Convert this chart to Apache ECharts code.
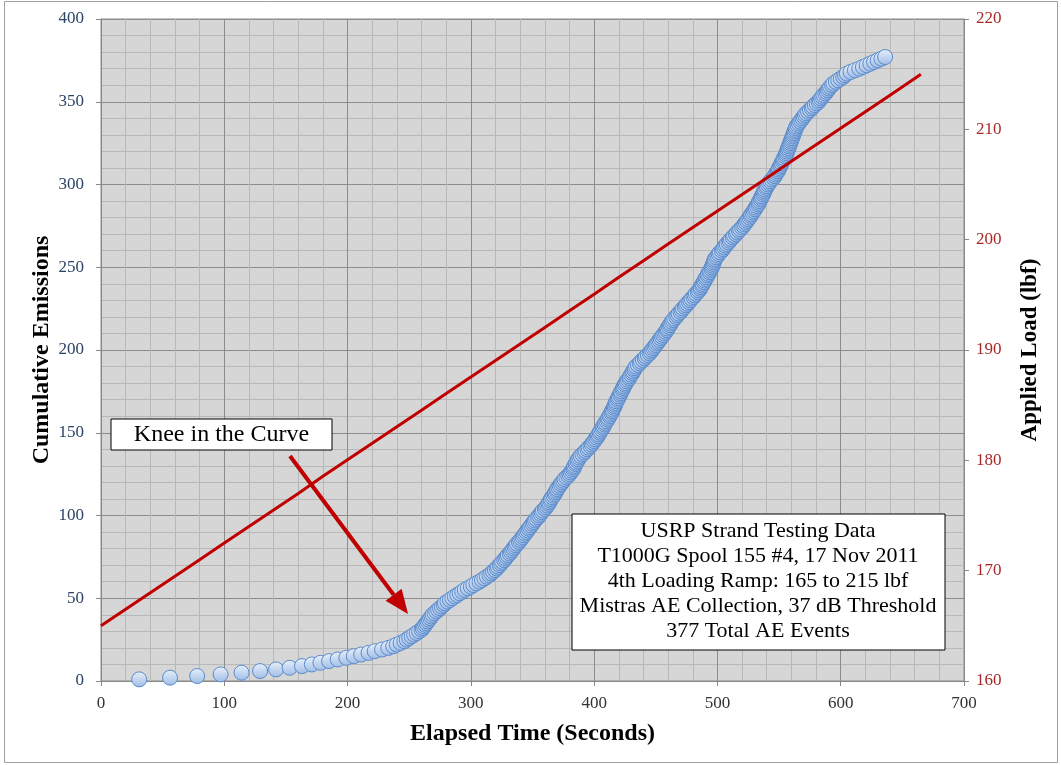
<!DOCTYPE html>
<html><head><meta charset="utf-8">
<script src="https://cdn.jsdelivr.net/npm/echarts@6.0.0/dist/echarts.min.js"></script>
<style>html,body{margin:0;padding:0;background:#fff}#c{width:1061px;height:765px}</style>
</head><body><div id="c"></div><script>
// Elapsed time (s) of each acoustic emission event; cumulative count = position in list
const eventTimes = [
 31,56,78,97,114,129,142,153,163,171,
 178,185,192,199,205,211,217,222,228,233,
 237,240,243,246,248,250,252,254,256,258,
 260,261,262,263,264,265,266,267,268,269,
 270.5,272,273.5,275,276.5,278,279,281,283,285,
 287,289,291,293,295,297.5,300,302,304.5,307,
 309,311,313,315,316.5,318,319.5,321,322,323.5,
 324.5,325.5,327,328,329,330,331.5,332.5,333.5,334.5,
 335.5,336.5,337.5,339,340,341,342,343,344,345,
 346,347,348,349,350,351,352,353,354.5,355.5,
 356.5,357.5,358.5,360,361,362,363,363.5,364.5,365,
 366,367,368,368.5,369.5,370,371,372,373,374,
 375,376,377.5,379,380,381,382,383,383.5,384,
 385,385.5,386.5,387,388,389,390.5,392,393,394.5,
 395.5,397,398,399,400,401,402,403,403.5,404.5,
 405,406,407,407.5,408.5,409,410,411,411.5,412.5,
 413,414,414.5,415,416,416.5,417,417.5,418,419,
 419.5,420,421,421.5,422,423,423.5,424,425,425.5,
 426.5,427.5,428.5,429,430,431,431.5,432.5,433,434,
 435.5,437,438,439.5,441,442,443.5,445,446,447,
 448,449,450,451,452,453,454,455,456,457,
 458,459,459.5,460.5,461.5,462,463,464,465,466.5,
 467.5,468.5,470,471,472,473.5,474.5,475.5,477,478,
 479,480.5,481.5,482.5,484,485,486,486.5,487.5,488,
 489,489.5,490.5,491,492,492.5,493.5,494,495,495.5,
 496,496.5,497,497.5,498,499,500,501,502,503.5,
 504.5,505.5,506.5,507.5,509,510,511,512.5,513.5,515,
 516,517.5,518.5,520,521,522,523,524,525,526,
 527,527.5,528.5,529.5,530.5,531,532,533,533.5,534,
 535,535.5,536,537,537.5,538,538.5,539.5,540,541,
 542,543,544,545.5,546.5,547,548,549,549.5,550,
 551,551.5,552,553,553.5,554,555,555.5,556,556.5,
 557,557.5,558,558.5,559,559.5,560,560.5,561,561.5,
 562,562.5,563,563.5,564,565,566,567,568,569,
 570,571,572,573.5,575,576.5,577.5,579,580.5,582,
 583,584,585,586,587.5,588.5,589.5,590.5,591.5,593,
 594,596,598,600,602,603.5,605,608,611.5,615,
 618,621,624,627,630,633,636
];
// Applied load ramp
const loadTimes = [0,20,40,60,80,100,120,140,160,180,200,220,240,260,280,300,320,340,360,380,400,420,440,460,480,500,520,540,560,580,600,620,640,660,665];
const loadValues = [165.0,166.5,168.0,169.5,171.0,172.5,174.0,175.5,177.0,178.55,180.05,181.55,183.05,184.55,186.05,187.55,189.05,190.55,192.05,193.55,195.05,196.6,198.1,199.6,201.1,202.6,204.1,205.6,207.1,208.6,210.1,211.6,213.1,214.6,215.0];
const xTicks = [0,700,100];
const leftTicks = [0,400,50];
const rightTicks = [160,220,10];
const infoLines = ['USRP Strand Testing Data','T1000G Spool 155 #4, 17 Nov 2011','4th Loading Ramp: 165 to 215 lbf','Mistras AE Collection, 37 dB Threshold','377 Total AE Events'];
const kneeLabel = 'Knee in the Curve';

const SERIF = '"Liberation Serif","Times New Roman",serif';
const chart = echarts.init(document.getElementById('c'), null, {renderer:'canvas'});

const scatterData = eventTimes.map((t,i)=>[t,i+1]);
const loadData = loadTimes.map((t,i)=>[t,loadValues[i]]);

// arrow geometry (annotation)
const aS=[290,456], aE=[408,614];
const ang=Math.atan2(aE[1]-aS[1],aE[0]-aS[0]);
const hl=24, hw=10;
const bx=aE[0]-hl*Math.cos(ang), by=aE[1]-hl*Math.sin(ang);
const px=-Math.sin(ang), py=Math.cos(ang);

const option = {
  animation:false,
  backgroundColor:'#fff',
  grid:{left:101,right:97,top:19,bottom:84,show:true,backgroundColor:'#d6d6d6',borderColor:'#8a8a8a',borderWidth:1},
  xAxis:{type:'value',min:xTicks[0],max:xTicks[1],interval:xTicks[2],
    name:'Elapsed Time (Seconds)',nameLocation:'middle',nameGap:41,nameMoveOverlap:false,
    nameTextStyle:{fontFamily:SERIF,fontWeight:'bold',fontSize:24,color:'#000'},
    axisLine:{lineStyle:{color:'#888'}},axisTick:{show:true,length:5,lineStyle:{color:'#888'}},
    axisLabel:{fontFamily:SERIF,fontSize:17,color:'#333',margin:14},
    splitLine:{show:true,lineStyle:{color:'#8c8c8c',width:1}},
    minorTick:{show:false,splitNumber:5},
    minorSplitLine:{show:true,lineStyle:{color:'#b8b8b8',width:1}}},
  yAxis:[{type:'value',min:leftTicks[0],max:leftTicks[1],interval:leftTicks[2],position:'left',
    name:'Cumulative Emissions',nameLocation:'middle',nameGap:47,nameMoveOverlap:false,
    nameTextStyle:{fontFamily:SERIF,fontWeight:'bold',fontSize:24,color:'#000'},
    axisLine:{show:true,lineStyle:{color:'#888'}},axisTick:{show:true,length:5,lineStyle:{color:'#888'}},
    axisLabel:{fontFamily:SERIF,fontSize:17,color:'#2b4466',margin:17},
    splitLine:{show:true,lineStyle:{color:'#8c8c8c',width:1}},
    minorTick:{show:false,splitNumber:5},
    minorSplitLine:{show:true,lineStyle:{color:'#b8b8b8',width:1}}},
   {type:'value',min:rightTicks[0],max:rightTicks[1],interval:rightTicks[2],position:'right',
    name:'Applied Load (lbf)',nameLocation:'middle',nameGap:55,nameMoveOverlap:false,
    nameTextStyle:{fontFamily:SERIF,fontWeight:'bold',fontSize:23,color:'#000'},
    axisLine:{show:true,lineStyle:{color:'#888'}},axisTick:{show:true,length:5,lineStyle:{color:'#888'}},
    axisLabel:{fontFamily:SERIF,fontSize:17,color:'#a82828',margin:12},
    splitLine:{show:false}}],
  series:[
    {type:'scatter',yAxisIndex:0,data:scatterData,symbol:'circle',symbolSize:15,z:2,
     itemStyle:{color:new echarts.graphic.LinearGradient(0,0,0,1,[{offset:0,color:'#e8f0fa'},{offset:1,color:'#9fbde6'}]),
       borderColor:'#5a8acb',borderWidth:1,opacity:1}},
    {type:'line',yAxisIndex:1,data:loadData,symbol:'none',z:3,
     lineStyle:{color:'#c00000',width:3}}
  ],
  graphic:[
    {type:'rect',z:10,shape:{x:111,y:419,width:221,height:31},style:{fill:'#fff',stroke:'#000',lineWidth:1}},
    {type:'text',z:11,x:221.5,y:435,style:{text:kneeLabel,font:'24px '+SERIF,fill:'#000',textAlign:'center',textVerticalAlign:'middle'}},
    {type:'line',z:12,shape:{x1:aS[0],y1:aS[1],x2:bx,y2:by},style:{stroke:'#c00000',lineWidth:4}},
    {type:'polygon',z:12,shape:{points:[[aE[0],aE[1]],[bx+px*hw,by+py*hw],[bx-px*hw,by-py*hw]]},style:{fill:'#c00000'}},
    {type:'rect',z:10,shape:{x:572,y:514,width:373,height:136},style:{fill:'#fff',stroke:'#000',lineWidth:1}},
    ...infoLines.map((s,i)=>({type:'text',z:11,x:758,y:531+i*25,style:{text:s,font:'22px '+SERIF,fill:'#000',textAlign:'center',textVerticalAlign:'middle'}})),
    {type:'rect',z:0,shape:{x:4.5,y:1.5,width:1053,height:761},style:{fill:'none',stroke:'#a0a0a0',lineWidth:1}}
  ]
};
chart.setOption(option);
</script></body></html>
